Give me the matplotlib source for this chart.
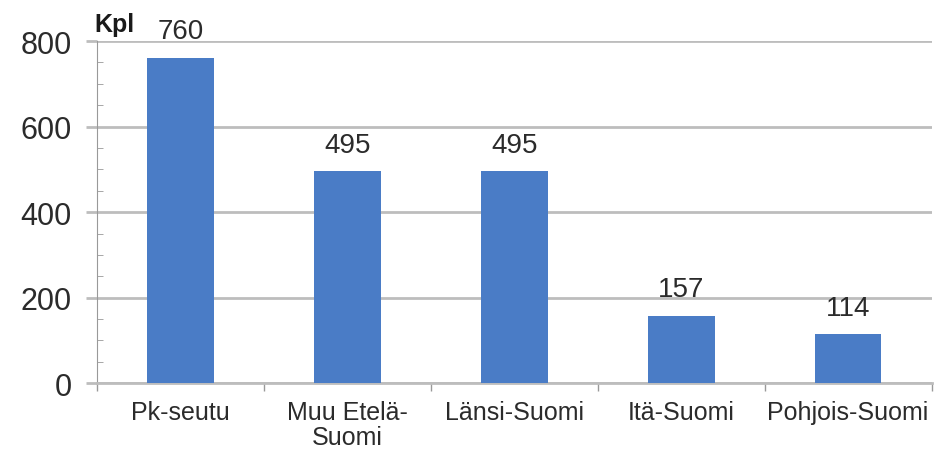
import matplotlib
matplotlib.use("Agg")
import matplotlib.pyplot as plt
from matplotlib.ticker import MultipleLocator

plt.rcParams["font.family"] = ["Liberation Sans", "DejaVu Sans"]

regions = ["Pk-seutu", "Muu Etelä-\nSuomi", "Länsi-Suomi", "Itä-Suomi", "Pohjois-Suomi"]
counts = [760, 495, 495, 157, 114]
y_ticks = [0, 200, 400, 600, 800]

BAR_COLOR = "#4a7cc6"
GRID_COLOR = "#bdbdbd"
TEXT_COLOR = "#2b2b2b"

fig = plt.figure(figsize=(9.4, 4.52), dpi=100)
ax = fig.add_axes([0.103, 0.150, 0.888, 0.757])

x = range(len(regions))
bars = ax.bar(x, counts, width=0.4, color=BAR_COLOR, zorder=3)

for rect, val in zip(bars, counts):
    ax.annotate(str(val), (rect.get_x() + rect.get_width() / 2, val),
                xytext=(0, 10), textcoords="offset points",
                ha="center", va="bottom", fontsize=20, color=TEXT_COLOR, zorder=4)

ax.set_xlim(-0.5, len(regions) - 0.5)
ax.set_ylim(0, 800)
ax.set_yticks(y_ticks)
ax.yaxis.set_minor_locator(MultipleLocator(50))
ax.set_yticklabels([str(v) for v in y_ticks], fontsize=22, color=TEXT_COLOR)
ax.grid(axis="y", color=GRID_COLOR, linewidth=2, zorder=0)

# category labels sit between boundary ticks
ax.set_xticks(list(x))
ax.set_xticklabels(regions, fontsize=18, color=TEXT_COLOR, linespacing=1.05)
ax.tick_params(axis="x", length=0, pad=12)
ax.set_xticks([i + 0.5 for i in range(-1, len(regions))], minor=True)
ax.tick_params(axis="x", which="minor", length=6, color="#999999", width=1)
ax.tick_params(axis="y", which="major", length=8, color=GRID_COLOR, width=2, pad=10)
ax.tick_params(axis="y", which="minor", direction="in", length=4, color="#999999")

for side in ("top", "right"):
    ax.spines[side].set_visible(False)
ax.spines["left"].set_color("#999999")
ax.spines["bottom"].set_color(GRID_COLOR)
ax.spines["bottom"].set_linewidth(2)

fig.text(0.100, 0.918, "Kpl", fontsize=18, fontweight="bold", color="#1a1a1a",
         ha="left", va="bottom")

fig.savefig("out.png", dpi=100)
plt.close(fig)
